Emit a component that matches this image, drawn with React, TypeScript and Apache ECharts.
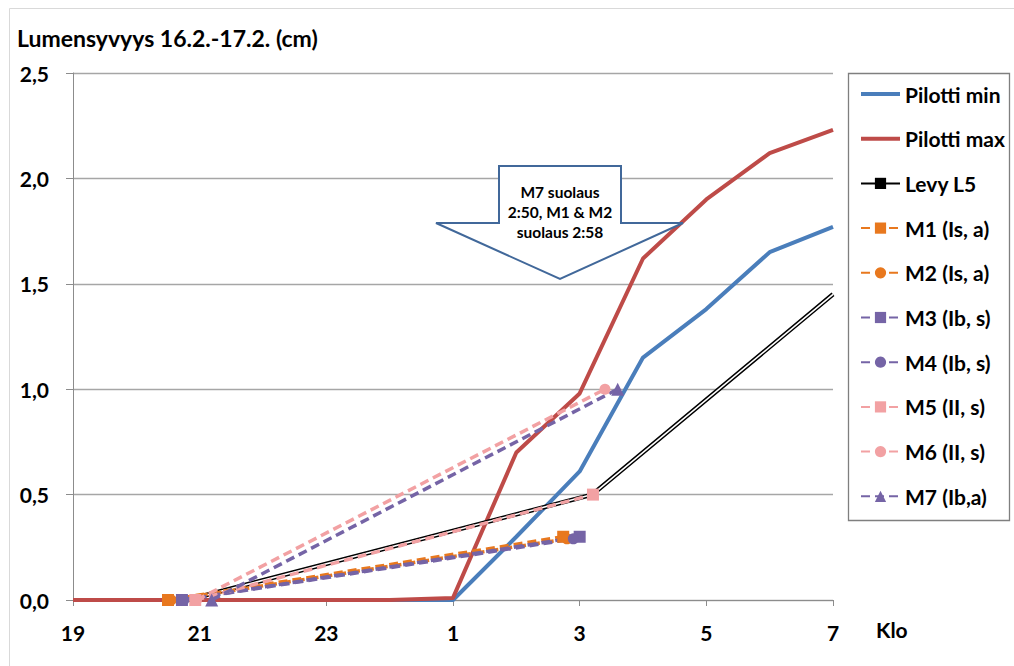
import React, { useEffect, useRef } from "react";
import * as echarts from "echarts";

// Hours counted from 19:00 (0 = 19, 6 = 01, 12 = 07)
const pilottiHours = [0, 1, 2, 3, 4, 5, 6, 7, 8, 9, 10, 11, 12];
const pilottiMin = [0, 0, 0, 0, 0, 0, 0, 0.3, 0.61, 1.15, 1.38, 1.65, 1.77];
const pilottiMax = [0, 0, 0, 0, 0, 0, 0.01, 0.7, 0.98, 1.62, 1.9, 2.12, 2.23];

const levyHours = [1.8, 8.2, 12];
const levyL5 = [0, 0.5, 1.45];

const m1Hours = [1.5, 7.74];
const m1 = [0, 0.3];
const m2Hours = [1.55, 7.8];
const m2 = [0, 0.29];
const m3Hours = [1.72, 8.0];
const m3 = [0, 0.3];
const m4Hours = [1.75, 7.9];
const m4 = [0, 0.29];
const m5Hours = [1.93, 8.21];
const m5 = [0, 0.5];
const m6Hours = [1.95, 8.4];
const m6 = [0, 1.0];
const m7Hours = [2.19, 8.6];
const m7 = [0, 1.0];

const legendNames = [
  "Pilotti min",
  "Pilotti max",
  "Levy L5",
  "M1 (Is, a)",
  "M2 (Is, a)",
  "M3 (Ib, s)",
  "M4 (Ib, s)",
  "M5 (II, s)",
  "M6 (II, s)",
  "M7 (Ib,a)",
];

const FONT = "Lato";
const BLUE = "#4A7EBB";
const RED = "#BE4B48";
const ORANGE = "#E8781E";
const PURPLE = "#7564A6";
const PINK = "#F2A1A3";

const pairs = (xs: number[], ys: number[]) => xs.map((x, i) => [x, ys[i]]);

const solid = (name: string, xs: number[], ys: number[], color: string) => ({
  name,
  type: "line",
  data: pairs(xs, ys),
  showSymbol: false,
  symbol: "none",
  lineStyle: { color, width: 4 },
  itemStyle: { color },
});

const dashed = (
  name: string,
  xs: number[],
  ys: number[],
  color: string,
  symbol: string,
  size: number
) => ({
  name,
  type: "line",
  data: pairs(xs, ys),
  symbol,
  symbolSize: size,
  showSymbol: true,
  lineStyle: { color, width: 3.5, type: [9, 5] },
  itemStyle: { color, borderWidth: 0 },
});

export default function App() {
  const ref = useRef<HTMLDivElement>(null);

  useEffect(() => {
    if (!ref.current) return;
    const chart = echarts.init(ref.current, undefined, { renderer: "svg" });
    const labelStyle = { fontFamily: FONT, fontWeight: "bold", fontSize: 21, color: "#000" };

    chart.setOption({
      animation: false,
      backgroundColor: "#fff",
      textStyle: { fontFamily: FONT },
      title: {
        text: "Lumensyvyys 16.2.-17.2. (cm)",
        left: 12,
        top: 21,
        textStyle: { fontFamily: FONT, fontWeight: "bold", fontSize: 23, color: "#000" },
      },
      grid: { left: 73, right: 181, top: 73, bottom: 66 },
      xAxis: {
        type: "value",
        min: 0,
        max: 12,
        interval: 2,
        axisLine: { show: true, lineStyle: { color: "#8C8C8C", width: 1 } },
        axisTick: { show: true, length: 6, lineStyle: { color: "#8C8C8C" } },
        splitLine: { show: false },
        axisLabel: {
          ...labelStyle,
          margin: 22,
          formatter: (v: number) => String((19 + v) % 24),
        },
      },
      yAxis: {
        type: "value",
        min: 0,
        max: 2.5,
        interval: 0.5,
        axisLine: { show: true, lineStyle: { color: "#8C8C8C", width: 1 } },
        axisTick: { show: true, length: 7, lineStyle: { color: "#8C8C8C" } },
        splitLine: { show: true, lineStyle: { color: "#A6A6A6", width: 1.3 } },
        axisLabel: {
          ...labelStyle,
          margin: 24,
          formatter: (v: number) => v.toFixed(1).replace(".", ","),
        },
      },
      legend: {
        orient: "vertical",
        left: 854,
        top: 77,
        itemWidth: 39,
        itemHeight: 14,
        itemGap: 20.7,
        textStyle: { ...labelStyle, lineHeight: 24 },
        data: legendNames.map((name, i) =>
          i < 2
            ? { name, itemStyle: { opacity: 0 }, lineStyle: { width: 4 } }
            : { name }
        ),
      },
      series: [
        solid("Pilotti min", pilottiHours, pilottiMin, BLUE),
        solid("Pilotti max", pilottiHours, pilottiMax, RED),
        {
          name: "Levy L5",
          type: "line",
          data: pairs(levyHours, levyL5),
          symbol: "rect",
          symbolSize: 9,
          showSymbol: false,
          lineStyle: { color: "#000", width: 4.5 },
          itemStyle: { color: "#000" },
        },
        {
          name: "Levy L5 core",
          type: "line",
          data: pairs(levyHours, levyL5),
          symbol: "none",
          showSymbol: false,
          lineStyle: { color: "#fff", width: 1.6 },
          silent: true,
        },
        dashed("M1 (Is, a)", m1Hours, m1, ORANGE, "rect", 12),
        dashed("M2 (Is, a)", m2Hours, m2, ORANGE, "circle", 11),
        dashed("M3 (Ib, s)", m3Hours, m3, PURPLE, "rect", 12),
        dashed("M4 (Ib, s)", m4Hours, m4, PURPLE, "circle", 11),
        dashed("M5 (II, s)", m5Hours, m5, PINK, "rect", 12),
        dashed("M6 (II, s)", m6Hours, m6, PINK, "circle", 11),
        dashed("M7 (Ib,a)", m7Hours, m7, PURPLE, "triangle", 13),
      ],
      graphic: [
        {
          type: "rect",
          shape: { x: 9.5, y: 8.5, width: 1100, height: 700 },
          style: { fill: "none", stroke: "#D9D9D9", lineWidth: 1 },
          silent: true,
        },
        {
          type: "rect",
          shape: { x: 848.5, y: 73.5, width: 161, height: 447 },
          style: { fill: "none", stroke: "#7F7F7F", lineWidth: 1.3 },
          silent: true,
        },
        {
          type: "text",
          left: 876,
          top: 619,
          style: { text: "Klo", fontFamily: FONT, fontWeight: "bold", fontSize: 21, fill: "#000" },
        },
        {
          type: "polygon",
          z: 50,
          shape: {
            points: [
              [499, 166],
              [621, 166],
              [621, 223],
              [683, 223],
              [560, 279],
              [436, 223],
              [499, 223],
            ],
          },
          style: { fill: "#fff", stroke: "#41689A", lineWidth: 2 },
        },
        {
          type: "text",
          z: 51,
          x: 560,
          y: 212,
          style: {
            text: "M7 suolaus\n2:50, M1 & M2\nsuolaus 2:58",
            fontFamily: FONT,
            fontWeight: "bold",
            fontSize: 15.5,
            lineHeight: 20,
            align: "center",
            verticalAlign: "middle",
            fill: "#000",
          },
        },
      ],
    });

    return () => chart.dispose();
  }, []);

  return (
    <div
      ref={ref}
      style={{ width: 1014, height: 666, position: "absolute", left: 0, top: 0 }}
    />
  );
}
